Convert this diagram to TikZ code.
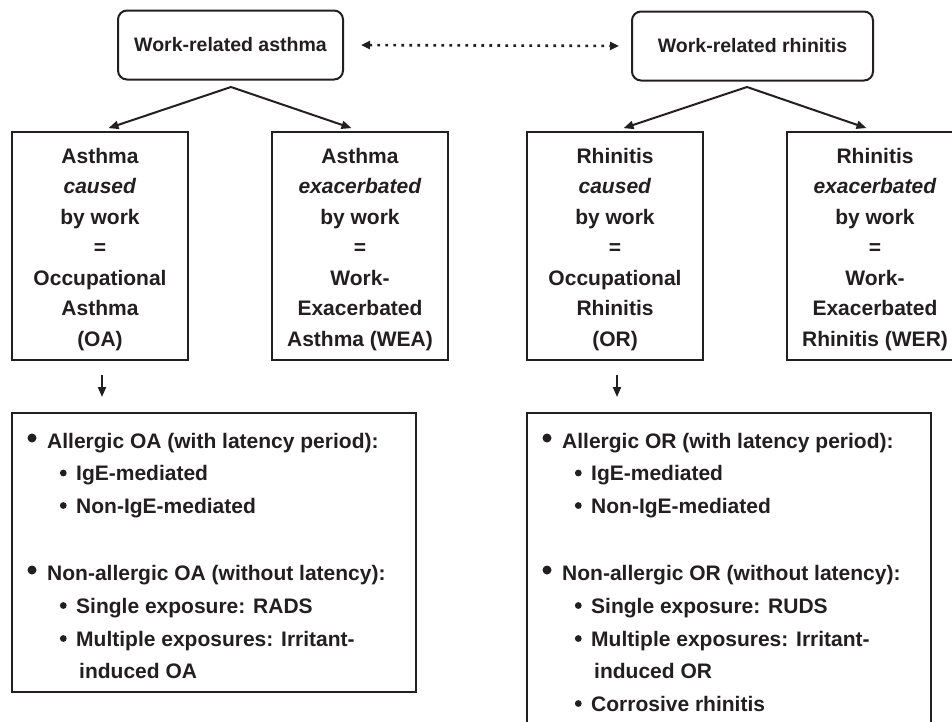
\documentclass[tikz,border=0pt]{standalone}
\usepackage{fontspec}
\setmainfont{Liberation Sans}
\usetikzlibrary{arrows.meta}
\definecolor{ink}{RGB}{35,31,32}
\begin{document}
\begin{tikzpicture}[x=1pt,y=-1pt,
  topbox/.style={draw=ink, line width=2pt, rounded corners=9pt, minimum width=225pt, minimum height=69pt, inner sep=0pt, text=ink, font=\fontsize{19.5}{23}\selectfont\bfseries},
  midbox/.style={draw=ink, line width=2pt, minimum width=176pt, minimum height=228pt, inner sep=0pt},
  midtext/.style={anchor=base, inner sep=0pt, text=ink, font=\fontsize{21}{30.5}\selectfont\bfseries},
  listbox/.style={draw=ink, line width=2pt, minimum width=404pt, inner sep=0pt},
  item/.style={anchor=base west, inner sep=0pt, text=ink, font=\fontsize{21}{25}\selectfont\bfseries},
  arr/.style={draw=ink, line width=2pt, -{Triangle[length=10pt,width=8pt]}},
  dotarr/.style={draw=ink, line width=2.6pt, dash pattern=on 2.6pt off 5.4pt, {Triangle[length=9pt,width=8pt]}-{Triangle[length=9pt,width=8pt]}},
]
\useasboundingbox (0,0) rectangle (952,721);
\fill[white] (0,0) rectangle (952,721);

% top boxes
\node[topbox] (wra) at (230.5,45) {Work-related asthma};
\node[topbox, minimum width=241pt] (wrr) at (752.5,46) {Work-related rhinitis};
\draw[dotarr, shorten <=17pt, shorten >=12pt] (wra.east) -- (wrr.west);

% middle boxes
\node[midbox] (oa) at (100,246) {};
\node[midbox] (wea) at (360,246) {};
\node[midbox] (orb) at (615,246) {};
\node[midbox] (wer) at (875,246) {};

\node[midtext] (oat) at (100,163) {\begin{tabular}[t]{@{}c@{}}Asthma\\\textit{caused}\\by work\\=\\Occupational\\Asthma\\(OA)\end{tabular}};
\node[midtext] (weat) at (360,163) {\begin{tabular}[t]{@{}c@{}}Asthma\\\textit{exacerbated}\\by work\\=\\Work-\\Exacerbated\\Asthma (WEA)\end{tabular}};
\node[midtext] (ort) at (615,163) {\begin{tabular}[t]{@{}c@{}}Rhinitis\\\textit{caused}\\by work\\=\\Occupational\\Rhinitis\\(OR)\end{tabular}};
\node[midtext] (wert) at (875,163) {\begin{tabular}[t]{@{}c@{}}Rhinitis\\\textit{exacerbated}\\by work\\=\\Work-\\Exacerbated\\Rhinitis (WER)\end{tabular}};

% branching arrows
\coordinate (wraapex) at (231,87);
\coordinate (wrrapex) at (747,87);
\draw[arr, shorten >=9pt] (wraapex) -- (oa.north);
\draw[arr, shorten >=9pt] (wraapex) -- (wea.north);
\draw[arr, shorten >=9pt] (wrrapex) -- (orb.north);
\draw[arr, shorten >=9pt] (wrrapex) -- (wer.north);

% list boxes
\node[listbox, minimum height=279pt] (oalist) at (214,552.5) {};
\node[listbox, minimum height=330pt] (orlist) at (729,578) {};

\draw[arr, shorten <=14pt, shorten >=15pt] ([xshift=2pt]oa.south) -- ([xshift=2pt]oa.south |- oalist.north);
\draw[arr, shorten <=14pt, shorten >=15pt] ([xshift=2pt]orb.south) -- ([xshift=2pt]orb.south |- orlist.north);

% left list
\fill[ink] (32,438) circle (4.5pt);
\node[item] (oa1) at (47,448) {Allergic OA (with latency period):};
\fill[ink] (63.3,473) circle (3.4pt);
\node[item] (oa2) at (76,480.5) {IgE-mediated};
\fill[ink] (63.3,505.5) circle (3.4pt);
\node[item] (oa3) at (76,513) {Non-IgE-mediated};
\fill[ink] (32,570) circle (4.5pt);
\node[item] (oa4) at (47,580) {Non-allergic OA (without latency):};
\fill[ink] (63.3,605.5) circle (3.4pt);
\node[item] (oa5) at (76,613) {Single exposure: RADS};
\fill[ink] (63.3,638.5) circle (3.4pt);
\node[item] (oa6) at (76,646) {Multiple exposures: Irritant-};
\node[item] (oa7) at (79,678) {induced OA};

% right list
\fill[ink] (547,438) circle (4.5pt);
\node[item] (or1) at (562,448) {Allergic OR (with latency period):};
\fill[ink] (578.3,473) circle (3.4pt);
\node[item] (or2) at (591,480.5) {IgE-mediated};
\fill[ink] (578.3,505.5) circle (3.4pt);
\node[item] (or3) at (591,513) {Non-IgE-mediated};
\fill[ink] (547,570) circle (4.5pt);
\node[item] (or4) at (562,580) {Non-allergic OR (without latency):};
\fill[ink] (578.3,605.5) circle (3.4pt);
\node[item] (or5) at (591,613) {Single exposure: RUDS};
\fill[ink] (578.3,638.5) circle (3.4pt);
\node[item] (or6) at (591,646) {Multiple exposures: Irritant-};
\node[item] (or7) at (594,678) {induced OR};
\fill[ink] (578.3,703.5) circle (3.4pt);
\node[item] (or8) at (591,711) {Corrosive rhinitis};
\end{tikzpicture}
\end{document}
